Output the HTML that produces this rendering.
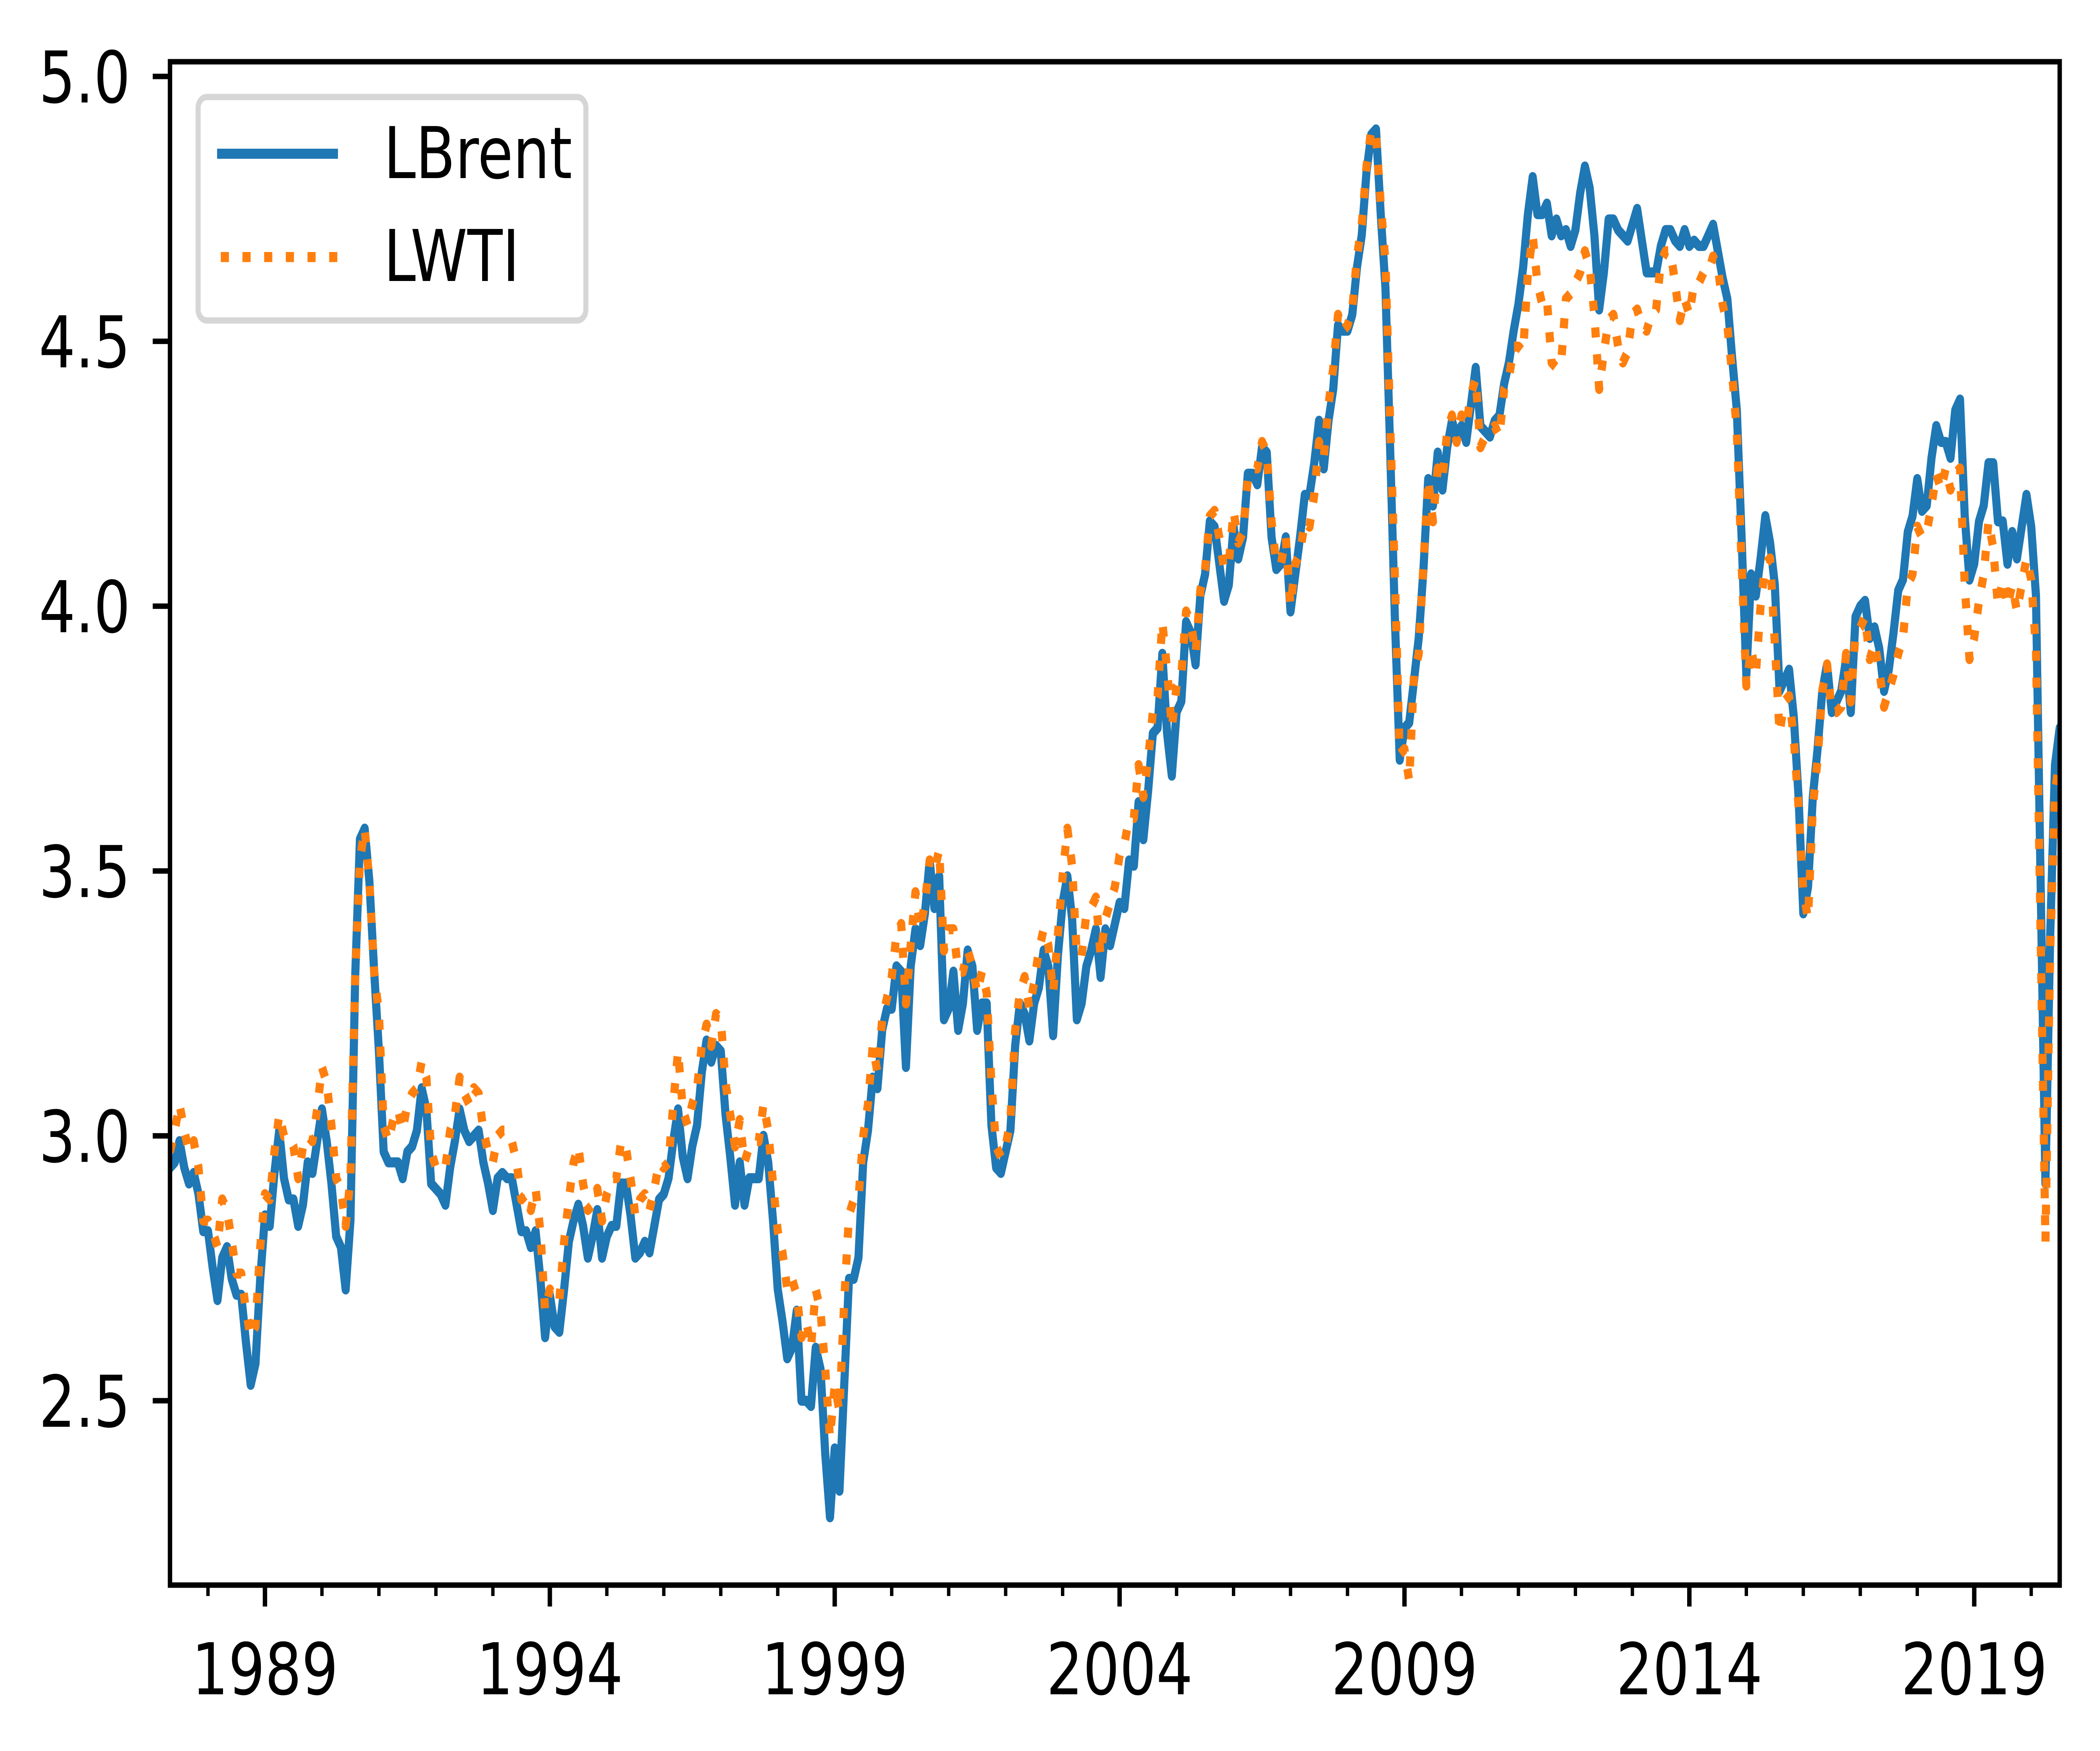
<!DOCTYPE html>
<html><head><meta charset="utf-8"><style>
html,body{margin:0;padding:0;background:#fff;overflow:hidden;width:100%;height:100%;}
svg{display:block;width:100vw;height:100vh;}
text{font-family:"DejaVu Sans","Liberation Sans",sans-serif;}
</style></head>
<body>
<svg id="chart" viewBox="0 0 6201 4169" preserveAspectRatio="none" xmlns="http://www.w3.org/2000/svg">
<rect x="0" y="0" width="6201" height="4169" fill="#fff"/>
<defs><clipPath id="plotclip"><rect x="502" y="147" width="5580" height="3627"/></clipPath></defs>
<g id="series" clip-path="url(#plotclip)"></g>
<g id="axes"></g>
<g id="legend">
  <rect x="585" y="231" width="1145" height="532" rx="26" fill="#fff" fill-opacity="0.8" stroke="#d6d6d6" stroke-width="15"/>
  <line x1="641" y1="366" x2="998" y2="366" stroke="#1f77b4" stroke-width="24"/>
  <text x="1133" y="424" font-size="170">LBrent</text>
  <line x1="652" y1="612" x2="998" y2="612" stroke="#ff7f0e" stroke-width="24" stroke-dasharray="24 40"/>
  <text x="1133" y="669" font-size="170">LWTI</text>
</g>
</svg>
<script>
// monthly series starting May 1987 (log prices)
const startYear = 1987;
const startMonth = 5;
const brent = [
2.94,2.95,2.99,2.94,2.91,2.93,2.89,2.82,
2.82,2.75,2.69,2.77,2.79,2.73,2.70,2.70,2.61,2.53,2.57,2.73,
2.85,2.83,2.93,3.01,2.92,2.88,2.88,2.83,2.87,2.95,2.93,2.99,
3.05,2.99,2.91,2.81,2.79,2.71,2.84,3.30,3.56,3.58,3.48,3.31,
3.16,2.97,2.95,2.95,2.95,2.92,2.97,2.98,3.01,3.09,3.05,2.91,
2.90,2.89,2.87,2.94,2.99,3.05,3.01,2.99,3.00,3.01,2.95,2.91,
2.86,2.92,2.93,2.92,2.92,2.87,2.82,2.82,2.79,2.82,2.73,2.62,
2.70,2.64,2.63,2.71,2.80,2.84,2.87,2.83,2.77,2.81,2.86,2.77,
2.81,2.83,2.83,2.91,2.91,2.85,2.77,2.78,2.80,2.78,2.83,2.88,
2.89,2.92,2.99,3.05,2.96,2.92,2.98,3.02,3.12,3.18,3.14,3.17,
3.16,3.04,2.96,2.87,2.95,2.87,2.92,2.92,2.92,3.00,2.95,2.84,
2.71,2.65,2.58,2.60,2.67,2.50,2.50,2.49,2.60,2.56,2.40,2.28,
2.41,2.33,2.53,2.73,2.73,2.77,2.95,3.01,3.11,3.09,3.20,3.24,
3.24,3.32,3.31,3.13,3.32,3.39,3.36,3.42,3.52,3.43,3.49,3.22,
3.24,3.31,3.20,3.25,3.35,3.32,3.20,3.25,3.25,3.02,2.94,2.93,
2.97,3.01,3.17,3.25,3.23,3.18,3.25,3.28,3.35,3.32,3.19,3.34,
3.44,3.49,3.41,3.22,3.25,3.32,3.35,3.39,3.30,3.39,3.36,3.40,
3.44,3.43,3.52,3.51,3.63,3.56,3.65,3.76,3.77,3.91,3.76,3.68,
3.80,3.82,3.97,3.95,3.89,4.02,4.06,4.16,4.15,4.08,4.01,4.04,
4.15,4.09,4.13,4.25,4.25,4.23,4.30,4.29,4.13,4.07,4.08,4.13,
3.99,4.06,4.13,4.21,4.21,4.27,4.35,4.26,4.35,4.41,4.53,4.52,
4.52,4.55,4.64,4.70,4.82,4.89,4.90,4.74,4.60,4.29,3.97,3.71,
3.77,3.78,3.86,3.94,4.07,4.24,4.19,4.29,4.22,4.30,4.35,4.32,
4.34,4.31,4.38,4.45,4.34,4.33,4.32,4.35,4.36,4.42,4.46,4.52,
4.57,4.64,4.74,4.81,4.74,4.74,4.76,4.70,4.73,4.70,4.71,4.68,
4.71,4.78,4.83,4.79,4.70,4.56,4.63,4.73,4.73,4.71,4.70,4.69,
4.72,4.75,4.69,4.63,4.63,4.63,4.68,4.71,4.71,4.69,4.68,4.71,
4.68,4.69,4.68,4.68,4.70,4.72,4.67,4.62,4.58,4.47,4.37,4.13,
3.87,4.06,4.02,4.09,4.17,4.12,4.04,3.84,3.86,3.88,3.79,3.64,
3.42,3.47,3.64,3.73,3.84,3.89,3.80,3.82,3.84,3.90,3.80,3.98,
4.00,4.01,3.94,3.96,3.92,3.84,3.88,3.95,4.03,4.05,4.14,4.17,
4.24,4.18,4.19,4.28,4.34,4.31,4.31,4.28,4.37,4.39,4.17,4.05,
4.08,4.16,4.19,4.27,4.27,4.16,4.16,4.08,4.14,4.09,4.15,4.21,
4.15,4.02,3.47,2.91,3.38,3.70,3.77
];
const wti = [
2.97,3.01,3.06,3.01,2.97,2.99,2.94,2.84,
2.84,2.82,2.79,2.88,2.86,2.80,2.74,2.74,2.67,2.62,2.64,2.79,
2.89,2.88,2.97,3.04,3.00,3.00,2.98,2.92,2.98,3.00,2.99,3.05,
3.13,3.10,3.02,2.92,2.90,2.83,2.92,3.30,3.52,3.58,3.48,3.31,
3.23,3.02,2.99,3.03,3.05,3.01,3.06,3.08,3.09,3.14,3.11,2.97,
2.94,2.94,2.94,3.01,3.04,3.11,3.08,3.06,3.09,3.08,3.01,2.97,
2.95,3.00,3.01,3.01,2.99,2.95,2.88,2.89,2.86,2.90,2.82,2.67,
2.71,2.69,2.69,2.80,2.88,2.95,2.98,2.91,2.86,2.87,2.90,2.84,
2.89,2.92,2.92,2.99,2.98,2.92,2.85,2.88,2.89,2.86,2.90,2.95,
2.94,2.95,3.06,3.16,3.05,3.02,3.06,3.09,3.17,3.21,3.17,3.23,
3.22,3.10,3.04,2.98,3.03,2.95,2.98,2.99,2.99,3.06,3.01,2.91,
2.82,2.78,2.71,2.73,2.70,2.62,2.65,2.60,2.71,2.67,2.56,2.43,
2.53,2.48,2.69,2.85,2.88,2.88,3.00,3.06,3.17,3.12,3.22,3.26,
3.30,3.38,3.40,3.25,3.36,3.46,3.39,3.44,3.52,3.50,3.54,3.35,
3.39,3.39,3.31,3.31,3.35,3.32,3.27,3.31,3.27,3.10,2.98,2.96,
2.98,3.03,3.20,3.27,3.30,3.24,3.29,3.35,3.39,3.36,3.27,3.38,
3.49,3.58,3.51,3.34,3.34,3.42,3.43,3.45,3.34,3.41,3.44,3.47,
3.53,3.55,3.60,3.60,3.70,3.64,3.71,3.80,3.83,3.97,3.88,3.77,
3.85,3.87,3.99,3.97,3.91,4.03,4.07,4.17,4.18,4.13,4.07,4.08,
4.18,4.12,4.14,4.24,4.26,4.26,4.31,4.29,4.16,4.08,4.08,4.13,
4.00,4.08,4.10,4.16,4.15,4.21,4.31,4.28,4.38,4.45,4.55,4.52,
4.53,4.56,4.66,4.72,4.83,4.90,4.89,4.76,4.65,4.34,4.05,3.72,
3.73,3.67,3.87,3.91,4.08,4.24,4.16,4.26,4.24,4.33,4.36,4.31,
4.36,4.34,4.40,4.43,4.30,4.32,4.33,4.34,4.32,4.41,4.43,4.49,
4.49,4.48,4.63,4.70,4.61,4.57,4.58,4.46,4.45,4.46,4.58,4.59,
4.61,4.63,4.67,4.64,4.55,4.41,4.48,4.54,4.55,4.49,4.46,4.48,
4.55,4.56,4.53,4.52,4.55,4.56,4.65,4.67,4.67,4.61,4.54,4.58,
4.55,4.61,4.61,4.63,4.63,4.66,4.64,4.57,4.53,4.44,4.33,4.08,
3.85,3.92,3.87,4.00,4.08,4.09,3.93,3.76,3.82,3.83,3.75,3.62,
3.46,3.41,3.62,3.71,3.84,3.89,3.80,3.80,3.81,3.91,3.82,3.95,
3.96,3.98,3.90,3.93,3.88,3.81,3.84,3.87,3.91,3.94,4.04,4.06,
4.15,4.13,4.14,4.19,4.25,4.22,4.26,4.22,4.25,4.26,4.04,3.90,
3.94,4.01,4.06,4.16,4.11,4.00,4.05,4.00,4.04,3.99,4.04,4.09,
4.05,3.92,3.37,2.80,3.35,3.65,3.71
];
const yTicks = [2.5, 3.0, 3.5, 4.0, 4.5, 5.0];
const yTickLabels = ["2.5", "3.0", "3.5", "4.0", "4.5", "5.0"];
const xMajorYears = [1989, 1994, 1999, 2004, 2009, 2014, 2019];
const xMajorLabels = ["1989", "1994", "1999", "2004", "2009", "2014", "2019"];

const NS = "http://www.w3.org/2000/svg";
const X0 = 502, X1 = 6082, Y0 = 3774, Y1 = 147;
const T0 = startYear + (startMonth - 1) / 12;
const T1 = T0 + (brent.length - 1) / 12;
function xScale(t){ return X0 + (t - T0) / (T1 - T0) * (X1 - X0); }
function yScale(v){ return 182 + (5.0 - v) * (3335 - 182) / 2.5; }
function tOf(i){ return T0 + i / 12; }

const series = document.getElementById('series');
function drawLine(vals, color, dash, name){
  let d = "";
  vals.forEach((v, i) => { d += (i ? "L" : "M") + xScale(tOf(i)).toFixed(1) + "," + yScale(v).toFixed(1); });
  const p = document.createElementNS(NS, 'path');
  p.setAttribute('d', d);
  p.setAttribute('fill', 'none');
  p.setAttribute('stroke', color);
  p.setAttribute('stroke-width', '24');
  p.setAttribute('stroke-linejoin', 'round');
  if (dash) { p.setAttribute('stroke-dasharray', dash); } else { p.setAttribute('stroke-linecap', 'round'); }
  
  
  series.appendChild(p);
}
drawLine(brent, '#1f77b4', null, 'lbrent-line');
drawLine(wti, '#ff7f0e', '24 40', 'lwti-line');

const axes = document.getElementById('axes');
function mk(tag, attrs){ const e = document.createElementNS(NS, tag); for (const k in attrs) e.setAttribute(k, attrs[k]); axes.appendChild(e); return e; }

const frame = mk('rect', {x: X0, y: Y1, width: X1 - X0, height: Y0 - Y1, fill: 'none', stroke: '#000', 'stroke-width': 13});



yTicks.forEach((v, i) => {
  const y = yScale(v);
  const tk = mk('line', {x1: X0 - 51, x2: X0, y1: y, y2: y, stroke: '#000', 'stroke-width': 13});
  
  
  const tx = mk('text', {x: 385, y: y + 62, 'font-size': 170, 'text-anchor': 'end'});
  tx.textContent = yTickLabels[i];
  
  
});
for (let yr = Math.ceil(T0); yr <= Math.floor(T1); yr++) {
  if (xMajorYears.indexOf(yr) >= 0) continue;
  const x = xScale(yr);
  const tk = mk('line', {x1: x, x2: x, y1: Y0, y2: Y0 + 26, stroke: '#000', 'stroke-width': 10});
  
  
}
xMajorYears.forEach((yr, i) => {
  const x = xScale(yr);
  const tk = mk('line', {x1: x, x2: x, y1: Y0, y2: Y0 + 51, stroke: '#000', 'stroke-width': 13});
  
  
  const tx = mk('text', {x: x, y: 4034, 'font-size': 170, 'text-anchor': 'middle'});
  tx.textContent = xMajorLabels[i];
  
  
});
</script>
</body></html>
